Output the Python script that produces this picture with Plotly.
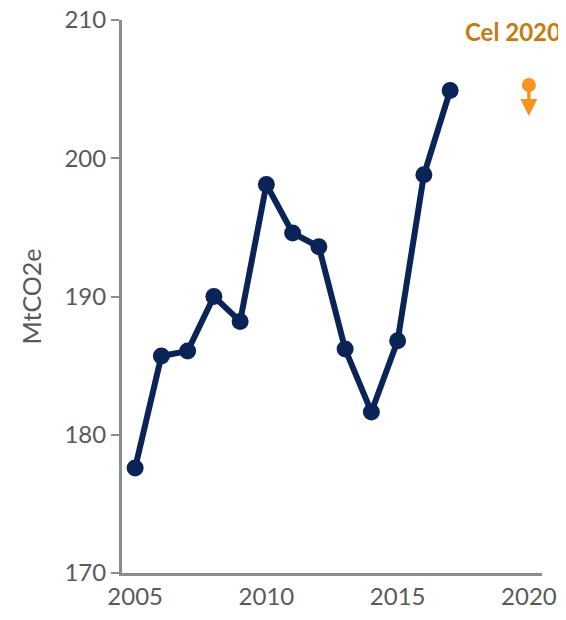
import plotly.graph_objects as go

years = [2005, 2006, 2007, 2008, 2009, 2010, 2011, 2012, 2013, 2014, 2015, 2016, 2017]
emissions = [177.6, 185.7, 186.05, 190.0, 188.2, 198.1, 194.6, 193.6, 186.2, 181.65, 186.8, 198.8, 204.9]

target_year = [2020]
target_value = [205.3]
arrow_stem_end = [203.8]
arrow_tip = [203.06]

navy = "#0b2457"
orange = "#f7931e"
grey = "#595959"
axis_grey = "#8c8c8c"

fig = go.Figure()

# historical emissions
fig.add_trace(go.Scatter(
    x=years, y=emissions, mode="lines+markers",
    line=dict(color=navy, width=6),
    marker=dict(color=navy, size=17),
    showlegend=False, hoverinfo="x+y",
))

# 2020 target: dot with an arrow pointing down
fig.add_trace(go.Scatter(
    x=target_year * 2, y=target_value + arrow_stem_end, mode="lines",
    line=dict(color=orange, width=3.5), showlegend=False, hoverinfo="skip",
))
fig.add_trace(go.Scatter(
    x=target_year, y=target_value, mode="markers",
    marker=dict(color=orange, size=14), showlegend=False,
))
fig.add_trace(go.Scatter(
    x=target_year, y=arrow_tip, mode="markers",
    marker=dict(color=orange, size=17, symbol="arrow-down", line=dict(width=0)),
    showlegend=False, hoverinfo="skip",
))

fig.add_annotation(
    x=2019.4, y=209.2, text="<b>Cel 2020</b>", showarrow=False,
    font=dict(family="Lato", size=24, color="#c87a10"),
)

# page body has an 8px margin, so the figure is offset by 8px
fig.update_layout(
    width=558, height=604,
    margin=dict(l=114, r=24, t=12, b=39, autoexpand=False),
    plot_bgcolor="white", paper_bgcolor="white",
    font=dict(family="Lato", color=grey),
)
fig.update_xaxes(
    range=[2004.5, 2020.5], tickvals=[2005, 2010, 2015, 2020],
    showgrid=False, zeroline=False,
    showline=True, linecolor=axis_grey, linewidth=3,
    ticks="", tickfont=dict(size=24, color=grey), automargin=False,
    ticklabeloverflow="allow",
)
fig.update_yaxes(
    range=[170, 210], tickvals=[170, 180, 190, 200, 210],
    showgrid=False, zeroline=False,
    showline=True, linecolor=axis_grey, linewidth=3,
    ticks="outside", ticklen=8, tickwidth=2, tickcolor=axis_grey,
    tickfont=dict(size=24, color=grey), automargin=False,
    ticklabeloverflow="allow",
    title=dict(text="MtCO2e", font=dict(size=25, color=grey), standoff=16),
)

fig.write_html("out.html")
